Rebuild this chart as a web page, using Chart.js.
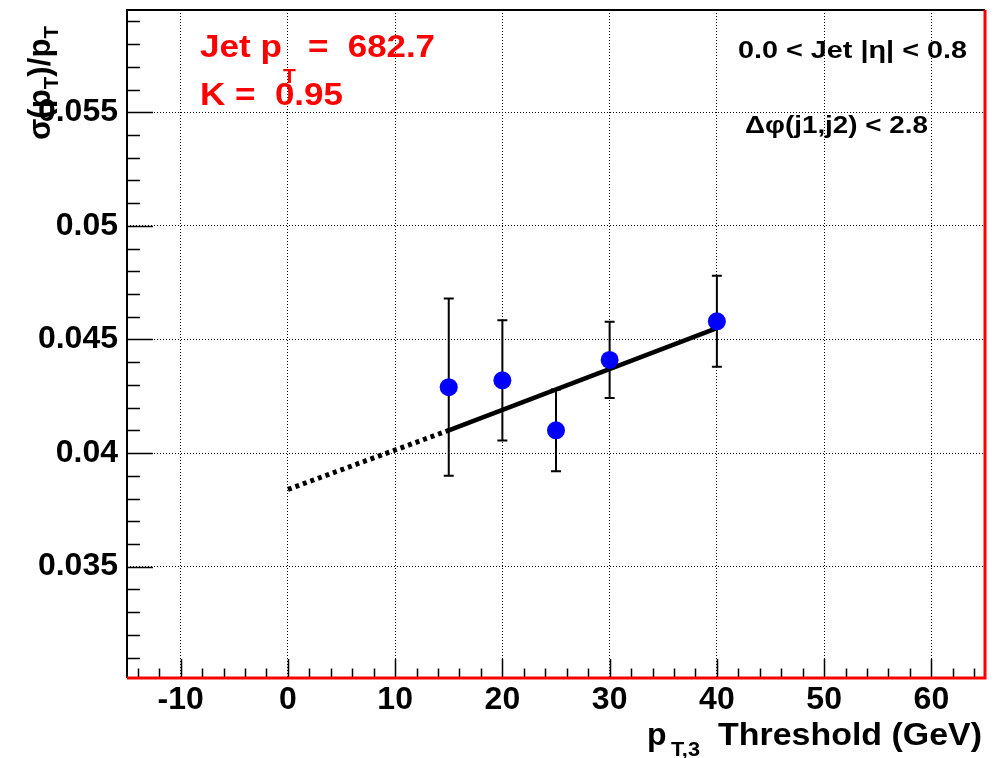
<!DOCTYPE html>
<html>
<head>
<meta charset="utf-8">
<script src="https://cdn.jsdelivr.net/npm/chart.js@4.4.1/dist/chart.umd.min.js"></script>
<style>
  body { margin: 0; background: #fff; }
  #contenedor { width: 998px; height: 758px; position: relative; }
</style>
</head>
<body>
<div id="contenedor"><canvas id="grafico"></canvas></div>
<script>
// datos
const umbrales = [15, 20, 25, 30, 40];
const resolucion = [0.0429, 0.0432, 0.0410, 0.0441, 0.0458];
const errores = [0.0039, 0.00265, 0.0018, 0.00168, 0.0020];
const ajusteX = [0, 15, 40];
const ajusteY = [0.0384, 0.0410, 0.0455];
const ticksX = [-10, 0, 10, 20, 30, 40, 50, 60];
const ticksY = [0.035, 0.04, 0.045, 0.05, 0.055];
const etiquetasY = ['0.035', '0.04', '0.045', '0.05', '0.055'];

const FUENTE = "'Liberation Sans', Arial, Helvetica, sans-serif";

// marcas menores cada 2 GeV y cada 0.001
const menoresX = [];
for (let v = -14; v <= 64; v += 2) menoresX.push(v);
const menoresY = [];
for (let v = 31; v <= 59; v++) menoresY.push(v / 1000);

function texto(ctx, s, x, y, size, color, ancho) {
  ctx.save();
  ctx.font = 'bold ' + size + 'px ' + FUENTE;
  ctx.fillStyle = color;
  ctx.textBaseline = 'alphabetic';
  const w = ctx.measureText(s).width;
  ctx.translate(x, y);
  if (ancho) ctx.scale(ancho / w, 1);
  ctx.fillText(s, 0, 0);
  ctx.restore();
}

function tituloY(ctx) {
  const piezas = [['\u03c3(p', 32, 0], ['T', 21, 8], [')/p', 32, 0], ['T', 21, 8]];
  ctx.save();
  ctx.fillStyle = '#000';
  let total = 0;
  piezas.forEach(p => {
    ctx.font = 'bold ' + p[1] + 'px ' + FUENTE;
    total += ctx.measureText(p[0]).width;
  });
  ctx.translate(50, 140);
  ctx.rotate(-Math.PI / 2);
  ctx.scale(114 / total, 1);
  let x = 0;
  piezas.forEach(p => {
    ctx.font = 'bold ' + p[1] + 'px ' + FUENTE;
    ctx.fillText(p[0], x, p[2]);
    x += ctx.measureText(p[0]).width;
  });
  ctx.restore();
}

const marcoRoot = {
  id: 'marcoRoot',
  beforeDatasetsDraw(chart) {
    const { ctx, scales: { x, y } } = chart;
    ctx.save();
    ctx.strokeStyle = '#000';
    ctx.lineWidth = 2;
    umbrales.forEach((u, i) => {
      const px = x.getPixelForValue(u);
      const arriba = y.getPixelForValue(resolucion[i] + errores[i]);
      const abajo = y.getPixelForValue(resolucion[i] - errores[i]);
      ctx.beginPath();
      ctx.moveTo(px, arriba); ctx.lineTo(px, abajo);
      ctx.moveTo(px - 5, arriba); ctx.lineTo(px + 5, arriba);
      ctx.moveTo(px - 5, abajo); ctx.lineTo(px + 5, abajo);
      ctx.stroke();
    });
    ctx.restore();
  },
  afterDraw(chart) {
    const { ctx, chartArea: a, scales: { x, y } } = chart;
    ctx.save();
    // marcas hacia dentro
    ctx.strokeStyle = '#000';
    ctx.lineWidth = 1.5;
    ctx.beginPath();
    menoresY.forEach(v => {
      const py = Math.round(y.getPixelForValue(v)) + 0.5;
      const largo = ticksY.some(t => Math.abs(t - v) < 1e-9) ? 26 : 13;
      ctx.moveTo(a.left, py); ctx.lineTo(a.left + largo, py);
    });
    menoresX.forEach(v => {
      const px = Math.round(x.getPixelForValue(v)) + 0.5;
      const largo = ticksX.includes(v) ? 19 : 9.5;
      ctx.moveTo(px, a.bottom); ctx.lineTo(px, a.bottom - largo);
    });
    ctx.stroke();
    // marco
    ctx.lineWidth = 2;
    ctx.beginPath();
    ctx.moveTo(a.left, a.bottom); ctx.lineTo(a.left, a.top); ctx.lineTo(a.right, a.top);
    ctx.stroke();
    ctx.strokeStyle = '#ff0000';
    ctx.lineWidth = 3;
    ctx.beginPath();
    ctx.moveTo(a.left, a.bottom); ctx.lineTo(a.right, a.bottom); ctx.lineTo(a.right, a.top);
    ctx.stroke();
    ctx.restore();

    // textos
    texto(ctx, 'Jet p', 200, 57, 32, '#ff0000', 82);
    texto(ctx, 'T', 283, 83, 21, '#ff0000');
    texto(ctx, '=  682.7', 308, 57, 32, '#ff0000', 127);
    texto(ctx, 'K =  0.95', 200, 105, 32, '#ff0000', 143);
    texto(ctx, '0.0 < Jet |\u03b7| < 0.8', 738, 58, 24, '#000', 229);
    texto(ctx, '\u0394\u03c6(j1,j2) < 2.8', 745, 133, 24, '#000', 183);
    texto(ctx, 'p', 647, 745, 32, '#000');
    texto(ctx, 'T,3', 671, 756, 21, '#000', 29);
    texto(ctx, 'Threshold (GeV)', 718, 745, 32, '#000', 264);
    tituloY(ctx);
  }
};

new Chart(document.getElementById('grafico'), {
  type: 'scatter',
  data: {
    datasets: [
      {
        data: umbrales.map((u, i) => ({ x: u, y: resolucion[i] })),
        backgroundColor: '#0000ff',
        borderWidth: 0,
        pointRadius: 9,
        showLine: false,
        order: 0
      },
      {
        data: [{ x: ajusteX[1], y: ajusteY[1] }, { x: ajusteX[2], y: ajusteY[2] }],
        showLine: true,
        borderColor: '#000',
        borderWidth: 4.5,
        pointRadius: 0,
        order: 1
      },
      {
        data: [{ x: ajusteX[0], y: ajusteY[0] }, { x: ajusteX[1], y: ajusteY[1] }],
        showLine: true,
        borderColor: '#000',
        borderWidth: 5,
        borderDash: [4, 4],
        pointRadius: 0,
        order: 1
      }
    ]
  },
  options: {
    responsive: true,
    maintainAspectRatio: false,
    animation: false,
    layout: { padding: { top: 10, right: 13, left: 0, bottom: 0 } },
    plugins: { legend: { display: false }, tooltip: { enabled: false } },
    scales: {
      x: {
        type: 'linear',
        min: -15,
        max: 65,
        afterBuildTicks: s => { s.ticks = ticksX.map(v => ({ value: v })); },
        afterFit: s => { s.height = 80; s.paddingLeft = 0; s.paddingRight = 0; },
        grid: { color: '#000', lineWidth: 1, drawTicks: false },
        border: { display: false, dash: [1, 2] },
        ticks: {
          padding: 3,
          color: '#000',
          font: { family: FUENTE, size: 32, weight: 'bold' },
          callback: v => String(v)
        }
      },
      y: {
        type: 'linear',
        min: 0.0301,
        max: 0.0595,
        afterBuildTicks: s => { s.ticks = ticksY.map(v => ({ value: v })); },
        afterFit: s => { s.width = 127; s.paddingTop = 0; s.paddingBottom = 0; },
        grid: { color: '#000', lineWidth: 1, drawTicks: false },
        border: { display: false, dash: [1, 2] },
        ticks: {
          padding: 9,
          color: '#000',
          font: { family: FUENTE, size: 32, weight: 'bold' },
          callback: v => etiquetasY[ticksY.findIndex(t => Math.abs(t - v) < 1e-9)]
        }
      }
    }
  },
  plugins: [marcoRoot]
});
</script>
</body>
</html>
